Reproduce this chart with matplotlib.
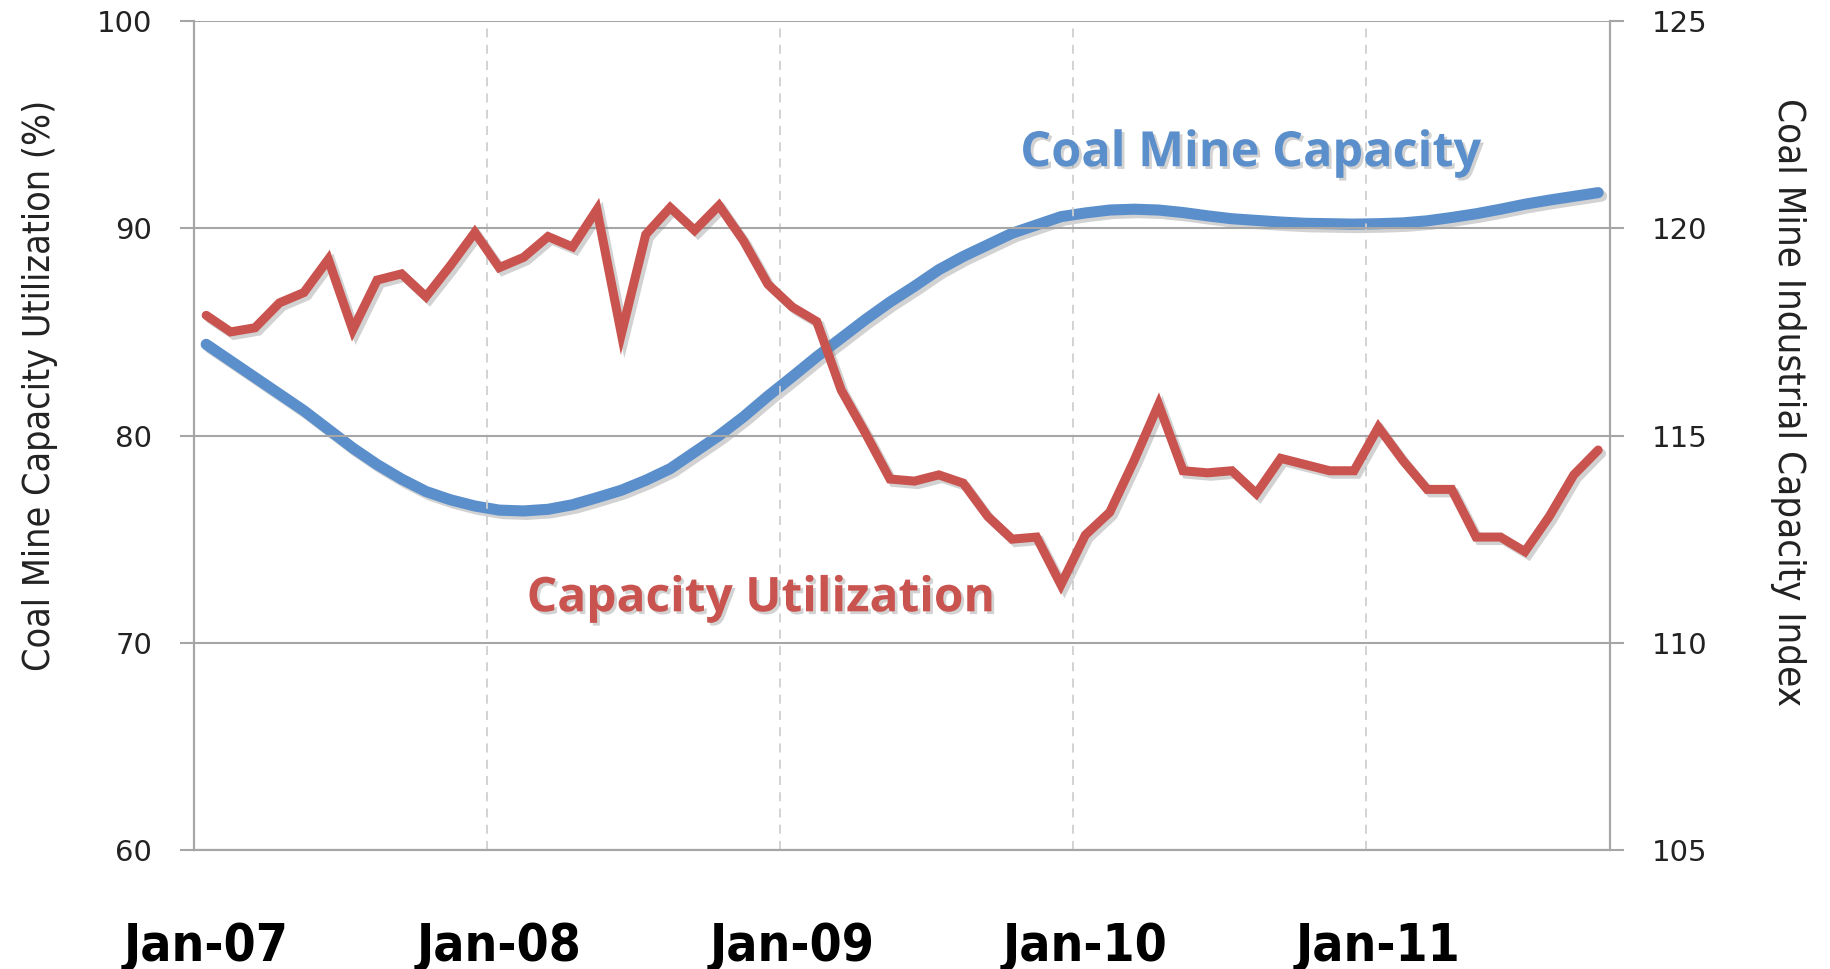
import matplotlib
matplotlib.use("Agg")
import matplotlib.pyplot as plt
import matplotlib.patheffects as pe
import numpy as np

# monthly data, Jan-07 .. Oct-11
months = np.arange(58)
utilization = [85.8, 85.0, 85.2, 86.4, 86.9, 88.5, 85.1, 87.5, 87.8, 86.7,
               88.2, 89.8, 88.1, 88.6, 89.6, 89.1, 90.9, 84.9, 89.7, 91.0,
               89.9, 91.1, 89.4, 87.3, 86.2, 85.5, 82.2, 80.1, 77.9, 77.8,
               78.1, 77.7, 76.1, 75.0, 75.1, 72.8, 75.2, 76.3, 78.8, 81.5,
               78.3, 78.2, 78.3, 77.2, 78.9, 78.6, 78.3, 78.3, 80.4, 78.8,
               77.4, 77.4, 75.1, 75.1, 74.4, 76.1, 78.1, 79.3]
capacity_index = [117.2, 116.8, 116.4, 116.0, 115.6, 115.15, 114.7, 114.3, 113.95, 113.65,
                  113.45, 113.3, 113.2, 113.18, 113.22, 113.33, 113.5, 113.68, 113.92, 114.2,
                  114.6, 115.0, 115.45, 115.95, 116.42, 116.9, 117.35, 117.8, 118.22, 118.6,
                  119.0, 119.32, 119.6, 119.88, 120.08, 120.28, 120.37, 120.44, 120.46, 120.44,
                  120.38, 120.3, 120.23, 120.19, 120.15, 120.12, 120.11, 120.1, 120.11, 120.13,
                  120.18, 120.26, 120.35, 120.46, 120.58, 120.68, 120.77, 120.86]
year_labels = ["Jan-07", "Jan-08", "Jan-09", "Jan-10", "Jan-11"]
year_pos = [0, 12, 24, 36, 48]

red = "#c9534f"
blue = "#5a8fcb"
grid = "#a6a6a6"

fig = plt.figure(figsize=(18.3, 9.69), dpi=100)
ax = fig.add_axes([0.106, 0.1228, 0.774, 0.8555])
ax2 = ax.twinx()

shadow = [pe.SimpleLineShadow(offset=(2.5, -2.5), shadow_color="gray", alpha=0.35), pe.Normal()]
ax2.plot(months, capacity_index, color=blue, lw=8, solid_capstyle="round", path_effects=shadow, zorder=3)
ax.plot(months, utilization, color=red, lw=6.5, solid_joinstyle="miter", solid_capstyle="round",
        path_effects=shadow, zorder=3)
ax.set_zorder(ax2.get_zorder() + 1)
ax.patch.set_visible(False)

ax.set_xlim(-0.5, 57.5)
ax.set_ylim(60, 100)
ax2.set_ylim(105, 125)
ax.set_yticks([60, 70, 80, 90, 100])
ax2.set_yticks([105, 110, 115, 120, 125])

ax.set_xticks(year_pos)
ax.set_xticklabels(year_labels, family="DejaVu Sans", fontstretch="condensed",
                   fontweight="bold", fontsize=37)
ax.set_xticks([11.5, 23.5, 35.5, 47.5], minor=True)
ax.tick_params(axis="x", which="major", length=0, pad=52)
ax.tick_params(axis="x", which="minor", length=0)
ax.grid(axis="x", which="minor", color="#d0d0d0", ls=(0, (5, 4)), lw=1.3)
ax.grid(axis="y", color=grid, lw=1.5)

for a in (ax, ax2):
    a.tick_params(axis="y", labelsize=21, length=10, width=1.5, color=grid, pad=20, labelcolor="#222222")
    for s in a.spines.values():
        s.set_color(grid)
        s.set_linewidth(1.5)
    a.spines["top"].set_visible(False)

ax.set_ylabel("Coal Mine Capacity Utilization (%)", fontstretch="condensed", fontsize=27,
              color="#222222")
ax.yaxis.set_label_coords(-0.096, 0.56)
ax2.set_ylabel("Coal Mine Industrial Capacity Index", fontstretch="condensed", fontsize=27.5,
               color="#222222", rotation=270)
ax2.yaxis.set_label_coords(1.138, 0.54)

tshadow = [pe.SimplePatchShadow(offset=(2, -2), shadow_rgbFace="gray", alpha=0.35), pe.Normal()]
ax.text(0.746, 0.84, "Coal Mine Capacity", transform=ax.transAxes, ha="center", va="center",
        family=["Open Sans", "DejaVu Sans"], fontweight="bold", fontsize=35, color=blue, path_effects=tshadow)
ax.text(0.40, 0.303, "Capacity Utilization", transform=ax.transAxes, ha="center", va="center",
        family=["Open Sans", "DejaVu Sans"], fontweight="bold", fontsize=34.5, color=red, path_effects=tshadow)

fig.savefig("out.png", dpi=100)
